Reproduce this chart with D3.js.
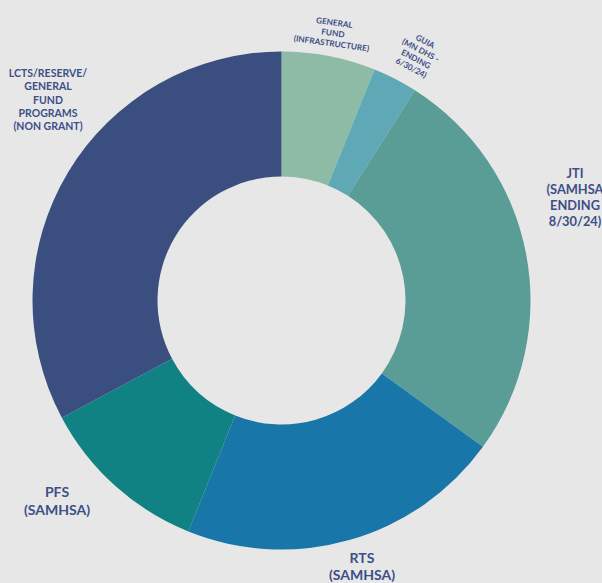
<!DOCTYPE html>
<html>
<head>
<meta charset="utf-8">
<script src="https://cdn.jsdelivr.net/npm/d3@7"></script>
<style>
  html, body { margin: 0; padding: 0; background: #e6e7e6; }
  svg { display: block; }
  .label { font-family: Lato, "Open Sans", sans-serif; font-weight: 700; fill: #3d4f88; }
</style>
</head>
<body>
<div id="wrapper"></div>
<script>
// funding sources, clockwise from 12 o'clock
const categories = [
  "GENERAL FUND (INFRASTRUCTURE)",
  "GUIA (MN DHS - ENDING 6/30/24)",
  "JTI (SAMHSA ENDING 8/30/24)",
  "RTS (SAMHSA)",
  "PFS (SAMHSA)",
  "LCTS/RESERVE/ GENERAL FUND PROGRAMS (NON GRANT)",
]
const shares = [6.1, 2.9, 26.0, 21.1, 11.1, 32.8]
const colors = ["#8dbba6", "#5fa8b6", "#5a9d97", "#1876a8", "#118283", "#3a4f80"]

// label line breaks as shown in the picture
const labelLines = [
  ["GENERAL", "FUND", "(INFRASTRUCTURE)"],
  ["GUIA", "(MN DHS -", "ENDING", "6/30/24)"],
  ["JTI", "(SAMHSA", "ENDING", "8/30/24)"],
  ["RTS", "(SAMHSA)"],
  ["PFS", "(SAMHSA)"],
  ["LCTS/RESERVE/", "GENERAL", "FUND", "PROGRAMS", "(NON GRANT)"],
]

async function drawDonut() {
  const dimensions = {
    width: 602,
    height: 583,
    cx: 281.5,
    cy: 300.5,
    outerRadius: 249,
    innerRadius: 124,
  }

  const dataset = categories.map((c, i) => ({ name: c, value: shares[i], color: colors[i], lines: labelLines[i] }))

  const wrapper = d3.select("#wrapper")
    .append("svg")
      .attr("width", dimensions.width)
      .attr("height", dimensions.height)

  const bounds = wrapper.append("g")
    .attr("transform", `translate(${dimensions.cx}, ${dimensions.cy})`)

  const pie = d3.pie()
    .sort(null)
    .value(d => d.value)

  const arc = d3.arc()
    .innerRadius(dimensions.innerRadius)
    .outerRadius(dimensions.outerRadius)

  bounds.selectAll(".slice")
    .data(pie(dataset))
    .enter().append("path")
      .attr("class", "slice")
      .attr("d", arc)
      .attr("fill", d => d.data.color)

  // label placement (absolute page coords), font size, line height, rotation
  const labelLayout = [
    { x: 334, y: 25.5, size: 8.2, lh: 10.5, rot: 8 },
    { x: 424, y: 44, size: 8.2, lh: 10, rot: 28 },
    { x: 575, y: 178, size: 12.8, lh: 16, rot: 0 },
    { x: 362, y: 563, size: 14, lh: 17, rot: 0 },
    { x: 57, y: 497, size: 14, lh: 17.5, rot: 0 },
    { x: 48, y: 77, size: 10.5, lh: 13.3, rot: 0 },
  ]

  const labels = wrapper.selectAll(".label")
    .data(dataset)
    .enter().append("text")
      .attr("class", "label")
      .attr("text-anchor", "middle")
      .attr("transform", (d, i) => `translate(${labelLayout[i].x}, ${labelLayout[i].y}) rotate(${labelLayout[i].rot})`)
      .style("font-size", (d, i) => `${labelLayout[i].size}px`)

  labels.each(function (d, i) {
    d3.select(this).selectAll("tspan")
      .data(d.lines)
      .enter().append("tspan")
        .attr("x", 0)
        .attr("y", (l, j) => j * labelLayout[i].lh)
        .text(l => l)
  })
}
drawDonut()
</script>
</body>
</html>
